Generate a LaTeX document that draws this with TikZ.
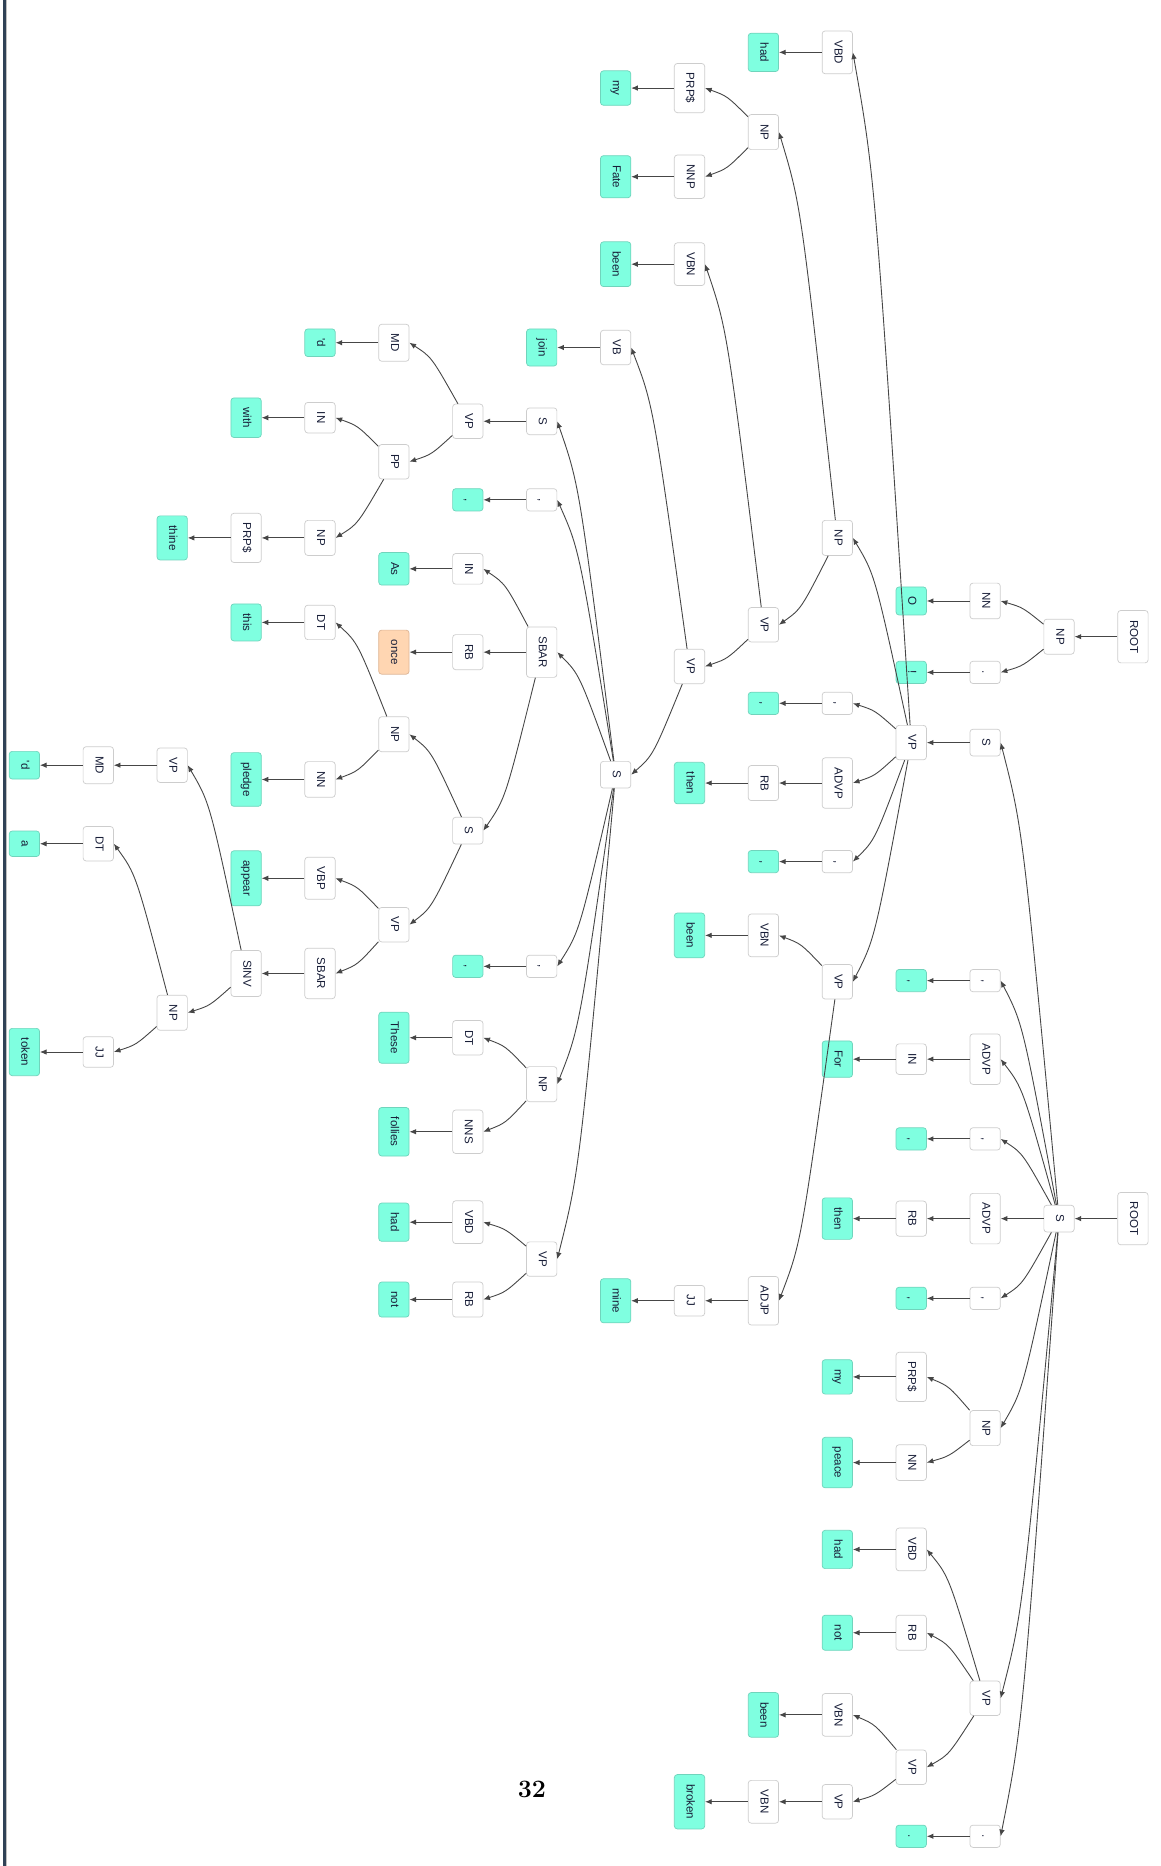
\documentclass[tikz,border=0pt]{standalone}
\usepackage{fontspec}
\usepackage{graphicx}
\usetikzlibrary{arrows.meta,calc}
\newfontfamily\labfont{Liberation Sans}

\definecolor{textc}{RGB}{24,30,56}
\definecolor{ntborder}{RGB}{205,205,205}
\definecolor{lfcolor}{RGB}{127,255,224}
\definecolor{lfborder}{RGB}{112,212,188}
\definecolor{peach}{RGB}{255,214,178}
\definecolor{peachborder}{RGB}{222,182,150}
\definecolor{edgec}{RGB}{70,70,70}
\definecolor{barc}{RGB}{48,66,86}

% rotated label text, reading top to bottom
\newcommand\rt[1]{\rotatebox{-90}{\vphantom{Ag}#1}}
% tree node: name, rank (column), y, style, label
\newcommand\tn[5]{\node[#4] (#1) at ({20.5+62.1*#2},#3) {\rt{#5}};}
% one parent-to-child connector, leaving the parent towards the child's right side
\newcommand\edgeto[2]{%
  \path let \p1=(#1.center), \p2=(#2.east) in
    coordinate (ctl) at ({\x2+18.5pt},{\y2+0.18*((\y1)-(\y2))});
  \draw[edge] (#1) .. controls (ctl) .. (#2.east);}
\newcommand\edges[2]{\foreach \cc in {#2} {\edgeto{#1}{\cc}}}

\begin{document}
\begin{tikzpicture}[x=1pt,y=-1pt,
  nt/.style={draw=ntborder, fill=white, rounded corners=2.5pt, line width=0.6pt,
    minimum width=25.5pt, inner xsep=0pt, inner ysep=8pt,
    font=\labfont\fontsize{9.7}{9.7}\selectfont, text=textc},
  lf/.style={nt, draw=lfborder, fill=lfcolor},
  lfo/.style={nt, draw=peachborder, fill=peach},
  edge/.style={draw=edgec, line width=0.75pt, -{Latex[length=5.6pt,width=4.6pt]}}]
\useasboundingbox (0,0) rectangle (975,1568);
\fill[white] (0,0) rectangle (975,1568);
\fill[barc] (2.2,0) rectangle (4.8,1568);
\fill[black!25] (4.8,0) rectangle (5.5,1568);

% ---- first tree: O !
\tn{rootA}{15}{535}{nt}{ROOT}
\tn{npA}{14}{535}{nt}{NP}
\tn{nnA}{13}{505}{nt}{NN}
\tn{dotA}{13}{565}{nt}{.}
\tn{lO}{12}{505}{lf}{O}
\tn{lexcl}{12}{565}{lf}{!}

% ---- second tree
\tn{rootB}{15}{1024}{nt}{ROOT}
\tn{sB}{14}{1024}{nt}{S}
\tn{s1}{13}{624}{nt}{S}
\tn{comE}{13}{824}{nt}{,}
\tn{advpB}{13}{890}{nt}{ADVP}
\tn{comF}{13}{957}{nt}{,}
\tn{advpC}{13}{1024}{nt}{ADVP}
\tn{comG}{13}{1091}{nt}{,}
\tn{npG}{13}{1200}{nt}{NP}
\tn{vpI}{13}{1427}{nt}{VP}
\tn{dotB}{13}{1543}{nt}{.}

\tn{vpA}{12}{624}{nt}{VP}
\tn{lcomE}{12}{824}{lf}{,}
\tn{inC}{12}{890}{nt}{IN}
\tn{lcomF}{12}{957}{lf}{,}
\tn{rbD}{12}{1024}{nt}{RB}
\tn{lcomG}{12}{1091}{lf}{,}
\tn{prpC}{12}{1157}{nt}{PRP\$}
\tn{nnB}{12}{1229}{nt}{NN}
\tn{vbdC}{12}{1302}{nt}{VBD}
\tn{rbE}{12}{1372}{nt}{RB}
\tn{vpJ}{12}{1485}{nt}{VP}
\tn{ldotB}{12}{1543}{lf}{.}

\tn{vbdA}{11}{44}{nt}{VBD}
\tn{npB}{11}{452}{nt}{NP}
\tn{comC}{11}{591}{nt}{,}
\tn{advpA}{11}{658}{nt}{ADVP}
\tn{comD}{11}{724}{nt}{,}
\tn{vpH}{11}{825}{nt}{VP}
\tn{lfor}{11}{890}{lf}{For}
\tn{lthenB}{11}{1024}{lf}{then}
\tn{lmyB}{11}{1157}{lf}{my}
\tn{lpeace}{11}{1229}{lf}{peace}
\tn{lhadC}{11}{1302}{lf}{had}
\tn{lnotB}{11}{1372}{lf}{not}
\tn{vbnC}{11}{1441}{nt}{VBN}
\tn{vpK}{11}{1514}{nt}{VP}

\tn{lhadA}{10}{44}{lf}{had}
\tn{npC}{10}{111}{nt}{NP}
\tn{vpB}{10}{525}{nt}{VP}
\tn{lcomC}{10}{591}{lf}{,}
\tn{rbC}{10}{658}{nt}{RB}
\tn{lcomD}{10}{724}{lf}{,}
\tn{vbnB}{10}{786}{nt}{VBN}
\tn{adjp}{10}{1093}{nt}{ADJP}
\tn{lbeenC}{10}{1441}{lf}{been}
\tn{vbnD}{10}{1514}{nt}{VBN}

\tn{prpA}{9}{74}{nt}{PRP\$}
\tn{nnp}{9}{148.5}{nt}{NNP}
\tn{vbnA}{9}{222}{nt}{VBN}
\tn{vpC}{9}{560}{nt}{VP}
\tn{lthenA}{9}{658}{lf}{then}
\tn{lbeenB}{9}{786}{lf}{been}
\tn{jjB}{9}{1093}{nt}{JJ}
\tn{lbroken}{9}{1514}{lf}{broken}

\tn{lmyA}{8}{74}{lf}{my}
\tn{lfate}{8}{148.5}{lf}{Fate}
\tn{lbeenA}{8}{222}{lf}{been}
\tn{vb}{8}{292}{nt}{VB}
\tn{sC}{8}{651}{nt}{S}
\tn{lmine}{8}{1093}{lf}{mine}

\tn{ljoin}{7}{292}{lf}{join}
\tn{sD}{7}{354}{nt}{S}
\tn{comA}{7}{420}{nt}{,}
\tn{sbarA}{7}{548}{nt}{SBAR}
\tn{comB}{7}{812}{nt}{,}
\tn{npF}{7}{911}{nt}{NP}
\tn{vpG}{7}{1058}{nt}{VP}

\tn{vpD}{6}{354}{nt}{VP}
\tn{lcomA}{6}{420}{lf}{,}
\tn{inB}{6}{478}{nt}{IN}
\tn{rbA}{6}{548}{nt}{RB}
\tn{sE}{6}{698}{nt}{S}
\tn{lcomB}{6}{812}{lf}{,}
\tn{dtC}{6}{872}{nt}{DT}
\tn{nns}{6}{951}{nt}{NNS}
\tn{vbdB}{6}{1027}{nt}{VBD}
\tn{rbB}{6}{1092}{nt}{RB}

\tn{mdA}{5}{288}{nt}{MD}
\tn{pp}{5}{388}{nt}{PP}
\tn{las}{5}{478}{lf}{As}
\tn{lonce}{5}{548}{lfo}{once}
\tn{npD}{5}{617}{nt}{NP}
\tn{vpE}{5}{777}{nt}{VP}
\tn{lthese}{5}{872}{lf}{These}
\tn{lfollies}{5}{951}{lf}{follies}
\tn{lhadB}{5}{1027}{lf}{had}
\tn{lnotA}{5}{1092}{lf}{not}

\tn{ldA}{4}{288}{lf}{'d}
\tn{inA}{4}{351}{nt}{IN}
\tn{npE}{4}{452}{nt}{NP}
\tn{dtA}{4}{523}{nt}{DT}
\tn{nnC}{4}{655}{nt}{NN}
\tn{vbp}{4}{738}{nt}{VBP}
\tn{sbarB}{4}{818}{nt}{SBAR}

\tn{lwith}{3}{351}{lf}{with}
\tn{prpB}{3}{452}{nt}{PRP\$}
\tn{lthis}{3}{523}{lf}{this}
\tn{lpledge}{3}{655}{lf}{pledge}
\tn{lappear}{3}{738}{lf}{appear}
\tn{sinv}{3}{818}{nt}{SINV}

\tn{lthine}{2}{452}{lf}{thine}
\tn{vpF}{2}{643}{nt}{VP}
\tn{npH}{2}{851}{nt}{NP}

\tn{mdB}{1}{643}{nt}{MD}
\tn{dtB}{1}{709}{nt}{DT}
\tn{jjA}{1}{884}{nt}{JJ}

\tn{ldB}{0}{643}{lf}{'d}
\tn{la}{0}{709}{lf}{a}
\tn{ltoken}{0}{884}{lf}{token}

% ---- connectors
\edges{rootA}{npA}
\edges{npA}{nnA,dotA}
\edges{nnA}{lO}
\edges{dotA}{lexcl}

\edges{rootB}{sB}
\edges{sB}{s1,comE,advpB,comF,advpC,comG,npG,vpI,dotB}
\edges{s1}{vpA}
\edges{vpA}{vbdA,npB,comC,advpA,comD,vpH}
\edges{vbdA}{lhadA}
\edges{npB}{npC,vpB}
\edges{npC}{prpA,nnp}
\edges{prpA}{lmyA}
\edges{nnp}{lfate}
\edges{vpB}{vbnA,vpC}
\edges{vbnA}{lbeenA}
\edges{vpC}{vb,sC}
\edges{vb}{ljoin}
\edges{sC}{sD,comA,sbarA,comB,npF,vpG}
\edges{sD}{vpD}
\edges{vpD}{mdA,pp}
\edges{mdA}{ldA}
\edges{pp}{inA,npE}
\edges{inA}{lwith}
\edges{npE}{prpB}
\edges{prpB}{lthine}
\edges{comA}{lcomA}
\edges{sbarA}{inB,rbA,sE}
\edges{inB}{las}
\edges{rbA}{lonce}
\edges{sE}{npD,vpE}
\edges{npD}{dtA,nnC}
\edges{dtA}{lthis}
\edges{nnC}{lpledge}
\edges{vpE}{vbp,sbarB}
\edges{vbp}{lappear}
\edges{sbarB}{sinv}
\edges{sinv}{vpF,npH}
\edges{vpF}{mdB}
\edges{mdB}{ldB}
\edges{npH}{dtB,jjA}
\edges{dtB}{la}
\edges{jjA}{ltoken}
\edges{comB}{lcomB}
\edges{npF}{dtC,nns}
\edges{dtC}{lthese}
\edges{nns}{lfollies}
\edges{vpG}{vbdB,rbB}
\edges{vbdB}{lhadB}
\edges{rbB}{lnotA}
\edges{comC}{lcomC}
\edges{advpA}{rbC}
\edges{rbC}{lthenA}
\edges{comD}{lcomD}
\edges{vpH}{vbnB,adjp}
\edges{vbnB}{lbeenB}
\edges{adjp}{jjB}
\edges{jjB}{lmine}
\edges{comE}{lcomE}
\edges{advpB}{inC}
\edges{inC}{lfor}
\edges{comF}{lcomF}
\edges{advpC}{rbD}
\edges{rbD}{lthenB}
\edges{comG}{lcomG}
\edges{npG}{prpC,nnB}
\edges{prpC}{lmyB}
\edges{nnB}{lpeace}
\edges{vpI}{vbdC,rbE,vpJ}
\edges{vbdC}{lhadC}
\edges{rbE}{lnotB}
\edges{vpJ}{vbnC,vpK}
\edges{vbnC}{lbeenC}
\edges{vpK}{vbnD}
\edges{vbnD}{lbroken}
\edges{dotB}{ldotB}

% page number
\node (pagenum) at (447,1504) {\fontsize{21}{21}\selectfont\bfseries 32};
\end{tikzpicture}
\end{document}
